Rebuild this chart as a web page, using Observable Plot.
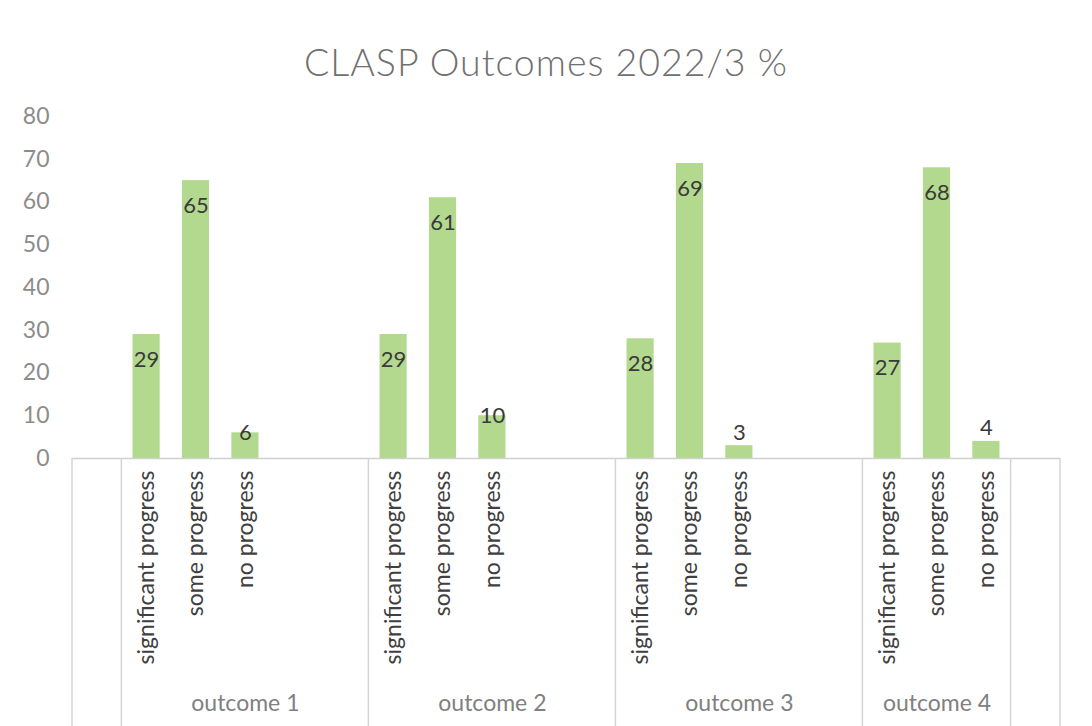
<!DOCTYPE html>
<html><head><meta charset="utf-8">
<script src="https://cdn.jsdelivr.net/npm/d3@7"></script>
<script src="https://cdn.jsdelivr.net/npm/@observablehq/plot@0.6"></script>
<style>
body{margin:0;background:#fff;font-family:Lato,"Open Sans",sans-serif;}
#title{height:100px;box-sizing:border-box;padding-top:40px;text-align:center;font-size:37.5px;line-height:44px;color:#707070;letter-spacing:1px;font-weight:300;}
</style></head><body>
<div id="title">CLASP Outcomes 2022/3 %</div>
<div id="chart"></div>
<script>
const outcomes = ["outcome 1", "outcome 2", "outcome 3", "outcome 4"];
const statuses = ["significant progress", "some progress", "no progress"];
const significantValues = [29, 29, 28, 27];
const someValues = [65, 61, 69, 68];
const noValues = [6, 10, 3, 4];
const yTicks = [0, 10, 20, 30, 40, 50, 60, 70, 80];
const emptySlotsAfter = [2, 2, 2, 0];

const seriesValues = [significantValues, someValues, noValues];
const rows = [];
const slots = ["lead"];
const groupInfo = [];
const statusOf = {};
outcomes.forEach((o, i) => {
  const groupSlots = [];
  statuses.forEach((s, j) => {
    const key = o + "|" + s;
    statusOf[key] = s;
    rows.push({outcome: o, status: s, value: seriesValues[j][i], key});
    groupSlots.push(key);
  });
  for (let k = 0; k < emptySlotsAfter[i]; k++) groupSlots.push(o + "|blank" + k);
  slots.push(...groupSlots);
  groupInfo.push({outcome: o, first: groupSlots[0], center: groupSlots[Math.floor(groupSlots.length / 2)]});
});
slots.push("trail");
const barKeys = rows.map(d => d.key);
const edgeKeys = ["lead", ...groupInfo.map(g => g.first), "trail"];

const PI = 0.45;
function dividers(index, scales, values, dimensions) {
  const x = scales.x;
  const bw = x.bandwidth();
  const step = typeof x.step === "function" ? x.step() : bw / (1 - PI);
  const g = document.createElementNS("http://www.w3.org/2000/svg", "g");
  const y1 = dimensions.height - dimensions.marginBottom;
  const y2 = dimensions.height;
  const xs = edgeKeys.map(k => x(k) - (step - bw) / 2);
  xs.push(x("trail") + bw + (step - bw) / 2);
  for (const xv of xs) {
    const l = document.createElementNS("http://www.w3.org/2000/svg", "line");
    l.setAttribute("x1", xv); l.setAttribute("x2", xv);
    l.setAttribute("y1", y1); l.setAttribute("y2", y2);
    l.setAttribute("stroke", "#d4d4d4"); l.setAttribute("stroke-width", 1.5);
    g.appendChild(l);
  }
  return g;
}

const chart = Plot.plot({
  width: 1092, height: 626,
  marginTop: 16, marginBottom: 268, marginLeft: 72, marginRight: 32,
  style: {fontFamily: "Lato, 'Open Sans', sans-serif", background: "#fff", overflow: "visible"},
  x: {domain: slots, paddingInner: PI, paddingOuter: PI / 2, round: false, axis: null},
  y: {domain: [0, 80], axis: null},
  marks: [
    Plot.barY(rows, {x: "key", y: "value", fill: "#b3d98f"}),
    Plot.axisY({ticks: yTicks, label: null, tickSize: 0, tickPadding: 23, fontSize: 23, fill: "#8c8c8c"}),
    Plot.axisX({ticks: barKeys, label: null, tickFormat: k => statusOf[k], tickRotate: -90, tickSize: 0, tickPadding: 12, fontSize: 23, fill: "#404040"}),
    Plot.ruleY([0], {stroke: "#d0d0d0", strokeWidth: 1.5}),
    dividers,
    Plot.text(groupInfo, {x: "center", text: "outcome", frameAnchor: "bottom", dy: 252, fontSize: 23, fill: "#808080"}),
    Plot.text(rows.filter(d => d.value >= 20), {x: "key", y: "value", text: "value", dy: 25, fontSize: 22, fill: "#3a3a3a"}),
    Plot.text(rows.filter(d => d.value >= 5 && d.value < 20), {x: "key", y: "value", text: "value", dy: 0, fontSize: 22, fill: "#3a3a3a"}),
    Plot.text(rows.filter(d => d.value < 5), {x: "key", y: "value", text: "value", dy: -13, fontSize: 22, fill: "#3a3a3a"})
  ]
});
document.getElementById("chart").appendChild(chart);
</script>
</body></html>
